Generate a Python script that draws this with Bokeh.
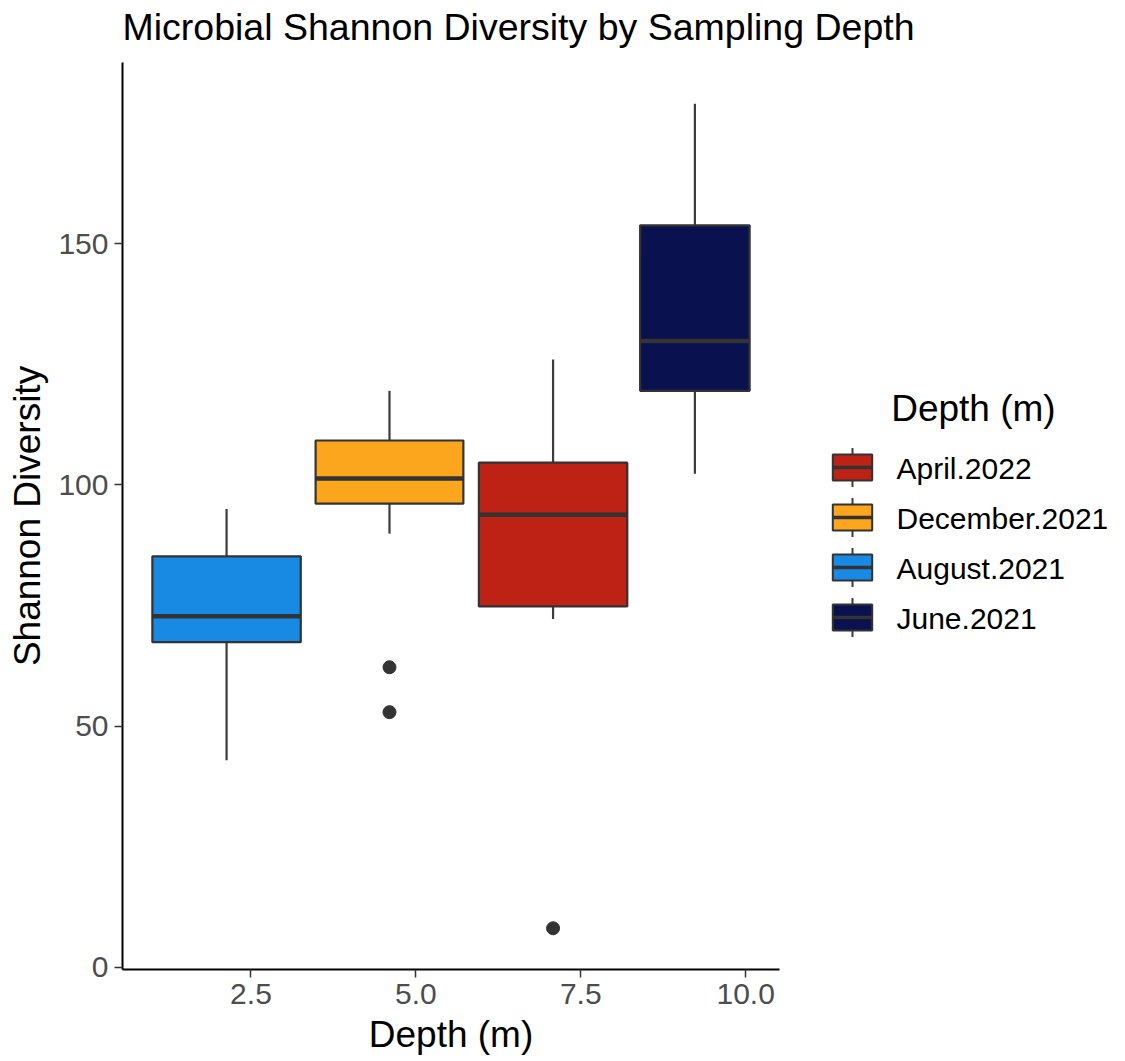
from bokeh.plotting import figure
from bokeh.layouts import row, column
from bokeh.models import Range1d, FixedTicker, NumeralTickFormatter
from bokeh.embed import file_html
from bokeh.resources import INLINE
from bokeh.core.properties import value

# ---- data ----
labels = ["April.2022", "December.2021", "August.2021", "June.2021"]
colors = ["#BD2215", "#FCA61D", "#188AE4", "#0A114F"]
depth = [7.08, 4.60, 2.13, 9.23]
box_width = [2.25, 2.24, 2.25, 1.66]
lower = [72.2, 89.9, 42.9, 102.3]
q1 = [74.8, 96.1, 67.4, 119.5]
median = [93.8, 101.3, 72.75, 129.8]
q3 = [104.6, 109.2, 85.2, 153.8]
upper = [126.0, 119.5, 95.0, 179.0]
outlier_depth = [4.60, 4.60, 7.08]
outlier_value = [62.2, 52.9, 8.1]
x_ticks = [2.5, 5.0, 7.5, 10.0]
y_ticks = [0, 50, 100, 150]
title_text = "Microbial Shannon Diversity by Sampling Depth"
x_title = "Depth (m)"
y_title = "Shannon Diversity"
legend_title = "Depth (m)"

FONT = "Liberation Sans"
DARK = "#333333"

# ---- layout constants (pixels) ----
W, H = 1125, 1061
TOP = 62          # frame top
FRAME_W, FRAME_H = 657, 907
LEFT = 122
MAIN_W = 800
BOTTOM = 92

left = [d - w / 2 for d, w in zip(depth, box_width)]
right = [d + w / 2 for d, w in zip(depth, box_width)]
xmin, xmax = min(left), max(right)
xpad = 0.05 * (xmax - xmin)
ymin = min(lower + outlier_value)
ymax = max(upper + outlier_value)
ypad = 0.05 * (ymax - ymin)

# ---- title strip ----
tfig = figure(
    width=W, height=TOP, x_range=Range1d(0, W), y_range=Range1d(TOP, 0),
    x_axis_type=None, y_axis_type=None, output_backend="svg",
    toolbar_location=None, min_border=0,
)
tfig.outline_line_color = None
tfig.grid.visible = False
tfig.text(x=[LEFT], y=[26], text=[title_text], text_font=value(FONT),
          text_font_size="37.5px", text_baseline="alphabetic",
          text_align="left", text_color="black")

# ---- main panel ----
p = figure(
    frame_width=FRAME_W, frame_height=FRAME_H,
    x_range=Range1d(xmin - xpad, xmax + xpad),
    y_range=Range1d(ymin - ypad, ymax + ypad),
    output_backend="svg", toolbar_location=None,
    min_border_left=LEFT, min_border_right=MAIN_W - LEFT - FRAME_W,
    min_border_top=0, min_border_bottom=BOTTOM,
)
p.outline_line_color = None
p.grid.visible = False
p.background_fill_color = "white"
p.border_fill_color = "white"

p.xaxis.ticker = FixedTicker(ticks=x_ticks)
p.yaxis.ticker = FixedTicker(ticks=y_ticks)
p.xaxis.formatter = NumeralTickFormatter(format="0.0")
p.yaxis.formatter = NumeralTickFormatter(format="0")
p.xaxis.axis_label = x_title
p.yaxis.axis_label = y_title
for ax in (p.xaxis, p.yaxis):
    ax.axis_line_color = "black"
    ax.axis_line_width = 2
    ax.major_tick_line_color = DARK
    ax.major_tick_line_width = 1.5
    ax.major_tick_out = 8
    ax.major_tick_in = 0
    ax.minor_tick_line_color = None
    ax.major_label_text_font = FONT
    ax.major_label_text_font_size = "30px"
    ax.major_label_text_color = "#4D4D4D"
    ax.major_label_standoff = 6
    ax.axis_label_text_font = FONT
    ax.axis_label_text_font_size = "37px"
    ax.axis_label_text_font_style = "normal"
    ax.axis_label_text_color = "black"
p.xaxis.axis_label_standoff = 7
p.yaxis.axis_label_standoff = 7

# whiskers
p.segment(x0=depth, y0=lower, x1=depth, y1=upper, line_color="#3C3C3C", line_width=2.2)
# boxes
p.quad(left=left, right=right, bottom=q1, top=q3, fill_color=colors,
       line_color=DARK, line_width=2.2)
# medians
p.segment(x0=left, y0=median, x1=right, y1=median, line_color=DARK, line_width=4.5)
# outliers
p.scatter(x=outlier_depth, y=outlier_value, size=13, fill_color=DARK, line_color=DARK)

# ---- legend panel (coordinates = page pixels) ----
leg = figure(
    frame_width=W - MAIN_W, frame_height=FRAME_H,
    x_range=Range1d(MAIN_W, W), y_range=Range1d(TOP + FRAME_H, TOP),
    x_axis_type=None, y_axis_type=None,
    output_backend="svg", toolbar_location=None,
    min_border_left=0, min_border_right=0, min_border_top=0,
    min_border_bottom=BOTTOM,
)
leg.outline_line_color = None
leg.grid.visible = False
leg.background_fill_color = "white"
leg.border_fill_color = "white"

n = len(labels)
key_cx = 852
key_w = 39.4
key_h = 26
first_y = 467
step = 50
yc = [first_y + i * step for i in range(n)]
kl = [key_cx - key_w / 2] * n
kr = [key_cx + key_w / 2] * n

leg.segment(x0=[key_cx] * n, y0=[y - 19.5 for y in yc],
            x1=[key_cx] * n, y1=[y + 19.5 for y in yc],
            line_color="#3C3C3C", line_width=2)
leg.quad(left=kl, right=kr, top=[y - key_h / 2 for y in yc],
         bottom=[y + key_h / 2 for y in yc], fill_color=colors,
         line_color=DARK, line_width=2)
leg.segment(x0=kl, y0=yc, x1=kr, y1=yc, line_color=DARK, line_width=3.5)
leg.text(x=[896] * n, y=[y + 1 for y in yc], text=labels,
         text_font=value(FONT), text_font_size="30px",
         text_baseline="alphabetic", text_align="left", text_color="black")
leg.text(x=[890.7], y=[408], text=[legend_title],
         text_font=value(FONT), text_font_size="37px",
         text_baseline="alphabetic", text_align="left", text_color="black")

layout = column(tfig, row(p, leg), spacing=0)
open("out.html", "w").write(file_html(layout, INLINE))
